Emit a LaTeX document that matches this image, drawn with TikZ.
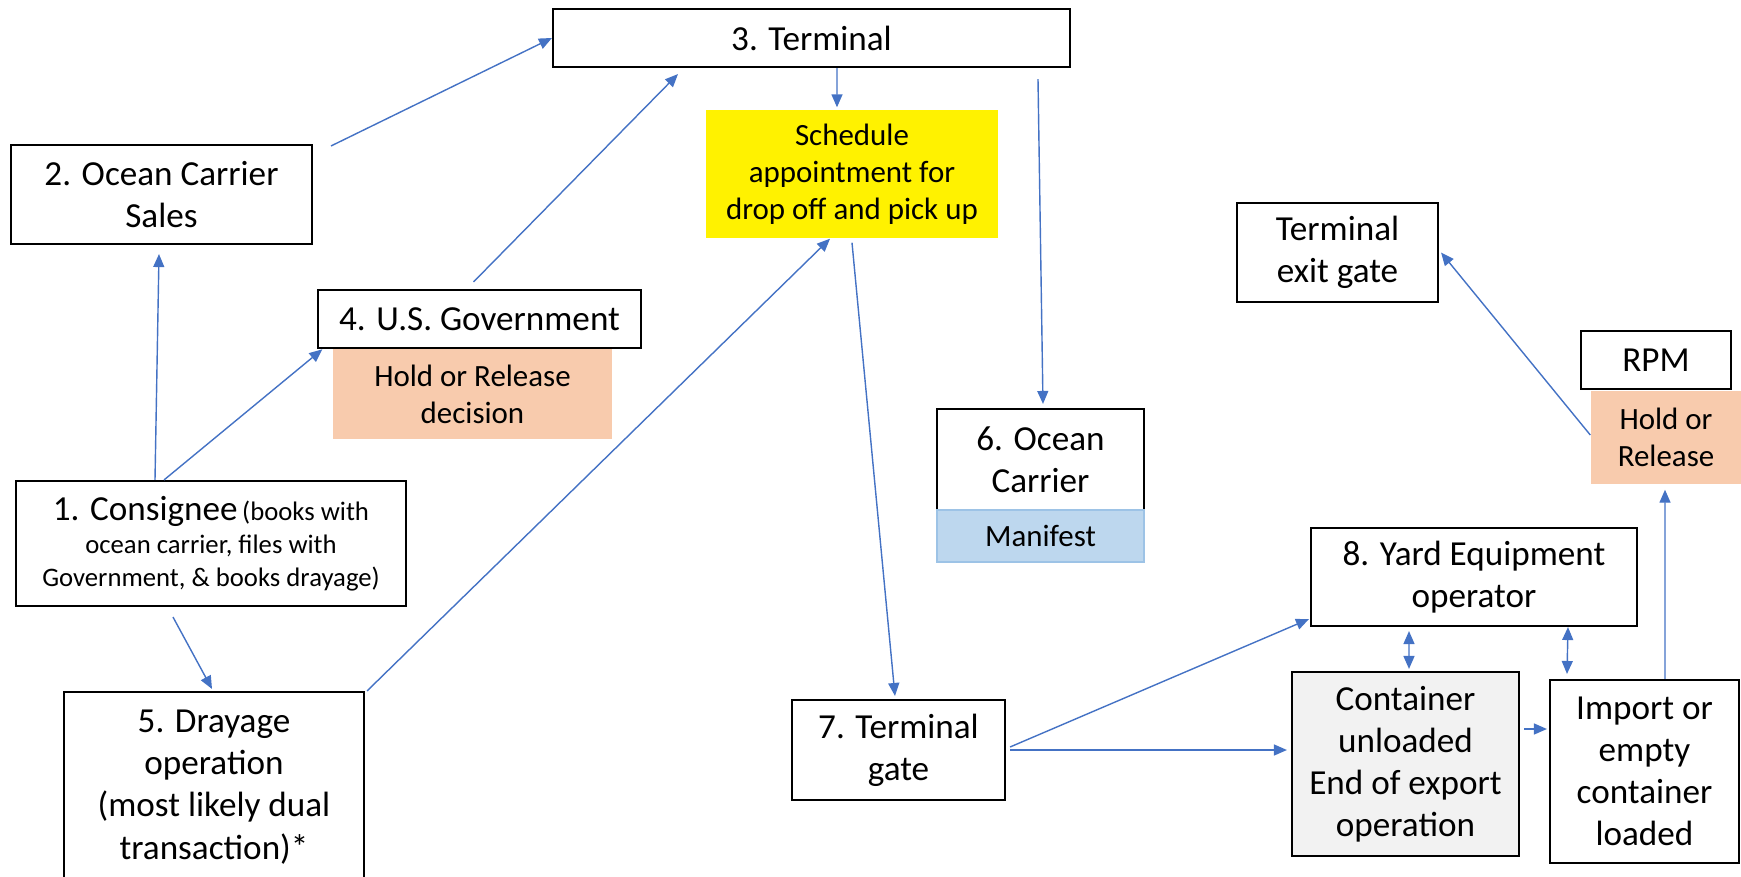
\documentclass[tikz,border=0pt]{standalone}
\usepackage{fontspec}
\setmainfont{Carlito}
\usetikzlibrary{arrows.meta}

\definecolor{flowblue}{HTML}{4472C4}
\definecolor{holdorange}{HTML}{F8CBAD}
\definecolor{manifestblue}{HTML}{BDD7EE}
\definecolor{manifestedge}{HTML}{9DC3E6}
\definecolor{unloadgray}{HTML}{F2F2F2}

\begin{document}
\begin{tikzpicture}[x=0.1mm, y=-0.1mm, >={Triangle[length=1.3mm,width=1.1mm]},
  box/.style={draw, line width=0.6pt, align=center, inner sep=0pt, font=\fontsize{10}{12}\selectfont},
  flag/.style={align=center, inner sep=0pt, font=\fontsize{8.8}{10.5}\selectfont},
  flow/.style={->, flowblue, line width=0.4pt}]

\useasboundingbox (0,0) rectangle (1741,876);

% Top row
\node[box, minimum width=51.7mm, minimum height=5.8mm] (terminal) at (811.5,38) {3. Terminal};
\node[flag, fill=yellow, minimum width=29.2mm, minimum height=12.8mm] (sched) at (852,174) {Schedule\\appointment for\\drop off and pick up};

% Left column
\node[box, minimum width=30.1mm, minimum height=9.9mm] (sales) at (161.5,194.5) {2. Ocean Carrier\\Sales};
\node[box, minimum width=32.3mm, minimum height=5.8mm] (gov) at (479.5,319) {4. U.S. Government};
\node[flag, fill=holdorange, minimum width=27.9mm, minimum height=9mm] (govhold) at (472.5,394) {Hold or Release\\decision};
\node[box, minimum width=39mm, minimum height=12.5mm, font=\fontsize{7.6}{9.4}\selectfont] (consignee) at (211,543.5)
  {{\fontsize{10}{12}\selectfont 1. Consignee}\,(books with\\ocean carrier, files with\\Government, \& books drayage)};
\node[box, minimum width=30mm, minimum height=19mm] (dray) at (214,787) {5. Drayage\\operation\\(most likely dual\\transaction)*};

% Middle
\node[box, minimum width=20.7mm, minimum height=10.1mm] (carrier) at (1040.5,459.5) {6. Ocean\\Carrier};
\node[flag, fill=manifestblue, draw=manifestedge, minimum width=20.7mm, minimum height=5.2mm] (manifest) at (1040.5,536) {Manifest};
\node[box, minimum width=21.3mm, minimum height=10mm] (gate) at (898.5,750) {7. Terminal\\gate};

% Right side
\node[box, minimum width=20.1mm, minimum height=9.9mm] (exitgate) at (1337.5,252.5) {Terminal\\exit gate};
\node[box, minimum width=15mm, minimum height=5.8mm] (rpm) at (1656,360) {RPM};
\node[flag, fill=holdorange, minimum width=15mm, minimum height=9.3mm] (rpmhold) at (1666,437.5) {Hold or\\Release};
\node[box, minimum width=32.6mm, minimum height=9.8mm] (yard) at (1474,577) {8. Yard Equipment\\operator};
\node[box, fill=unloadgray, minimum width=22.7mm, minimum height=18.4mm] (unloaded) at (1405.5,764) {Container\\unloaded\\End of export\\operation};
\node[box, minimum width=18.9mm, minimum height=18.3mm] (loaded) at (1644.5,771.5) {Import or\\empty\\container\\loaded};

% Flows to the terminal
\draw[flow] ([shift={(18,2)}]sales.north east) -- (terminal.west);
\draw[flow] ([shift={(-6,-7)}]gov.north) -- ([shift={(-133.5,6)}]terminal.south);
\draw[flow] ([shift={(25.5,0)}]terminal.south) -- ([shift={(-15,-2)}]sched.north);
\draw[flow] ([shift={(226.5,11)}]terminal.south) -- ([shift={(2.5,-4)}]carrier.north);
\draw[flow] ([shift={(0,4)}]sched.south) -- ([shift={(-3.5,-3)}]gate.north);

% Flows from the consignee
\draw[flow] ([shift={(-56,0)}]consignee.north) -- ([shift={(-2.5,9)}]sales.south);
\draw[flow] ([shift={(-47,0)}]consignee.north) -- ([shift={(-10,1)}]govhold.north west);
\draw[flow] ([shift={(-38,10)}]consignee.south) -- ([shift={(-2,-2)}]dray.north);
\draw[flow] ([shift={(2,0)}]dray.north east) -- ([shift={(-22,0)}]sched.south);

% Yard flows
\draw[flow] ([shift={(4,-3)}]gate.east) -- ([shift={(-1,-8)}]yard.south west);
\draw[flow] ([shift={(4,0)}]gate.east) -- ([shift={(-4,-14)}]unloaded.west);
\draw[flow, <->] ([shift={(-65,4)}]yard.south) -- ([shift={(3.5,-2)}]unloaded.north);
\draw[flow, <->] ([shift={(94,0)}]yard.south) -- ([shift={(-77.5,-5)}]loaded.north);
\draw[flow] ([shift={(4,-35)}]unloaded.east) -- ([shift={(-2,-42.5)}]loaded.west);
\draw[flow] ([shift={(20.5,0)}]loaded.north) -- ([shift={(-1,5)}]rpmhold.south);
\draw[flow] ([shift={(0,-2.5)}]rpmhold.west) -- ([shift={(2,0)}]exitgate.east);

\end{tikzpicture}
\end{document}
